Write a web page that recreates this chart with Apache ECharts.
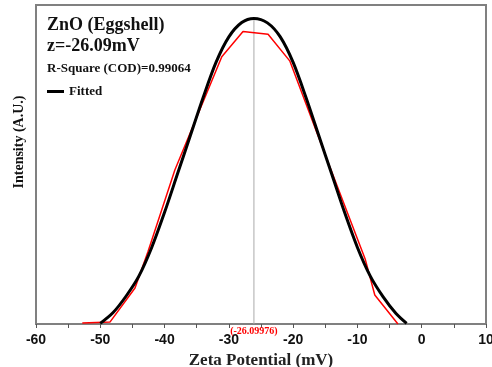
<!DOCTYPE html>
<html>
<head>
<meta charset="utf-8">
<script src="https://cdn.jsdelivr.net/npm/echarts@6/dist/echarts.min.js"></script>
<style>html,body{margin:0;padding:0;background:#fff}#c{width:492px;height:367px}</style>
</head>
<body>
<div id="c"></div>
<script>
// Fitted curve (black)
var fitX = [-50, -48, -46, -44, -42, -40, -38, -36, -34, -32, -30, -28, -26.1, -24, -22, -20, -18, -16, -14, -12, -10, -8, -6, -4, -2.35];
var fitY = [0.2, 3.6, 8.7, 15, 24, 35, 47, 59, 71, 82, 90, 94.5, 95.8, 94.4, 90, 82, 71, 59, 47, 35, 24, 15, 8.5, 3.3, 0.2];
// Measured data (red)
var dataX = [-52.8, -48.5, -44.6, -42.6, -38.4, -31.1, -27.8, -23.9, -20.5, -14.7, -8.8, -7.3, -3.7];
var dataY = [0.3, 0.6, 11.3, 22.6, 48.3, 83.8, 91.7, 90.8, 82.4, 51.4, 20.4, 9.1, 0.0];
// Peak marker
var peakX = -26.09976;
var peakY = 95.8;
var peakLabel = '(-26.09976)';
var xTicks = {min: -60, max: 10, interval: 10};

function pairs(xs, ys){ return xs.map(function(x,i){ return [x, ys[i]]; }); }

var chart = echarts.init(document.getElementById('c'));
var serif = '"Liberation Serif", "Times New Roman", serif';
var sans = '"Liberation Sans", Arial, sans-serif';
chart.setOption({
  animation: false,
  grid: {left: 36, right: 6, top: 5, bottom: 43, show: true, borderColor: '#808080', borderWidth: 2, containLabel: false, outerBoundsMode: 'none'},
  xAxis: {
    type: 'value', min: xTicks.min, max: xTicks.max, interval: xTicks.interval,
    name: 'Zeta Potential (mV)', nameLocation: 'middle', nameGap: 23,
    nameTextStyle: {fontFamily: serif, fontWeight: 'bold', fontSize: 17, color: '#222'},
    axisLine: {show: true, onZero: false, lineStyle: {color: '#808080', width: 2}},
    axisTick: {show: true, inside: false, length: 4, lineStyle: {color: '#555'}},
    minorTick: {show: true, splitNumber: 2, length: 4, lineStyle: {color: '#555'}},
    splitLine: {show: false},
    axisLabel: {fontFamily: sans, fontWeight: 'bold', fontSize: 14, color: '#111', margin: 9}
  },
  yAxis: {
    type: 'value', min: 0, max: 100,
    axisLine: {show: true, onZero: false, lineStyle: {color: '#808080', width: 2}},
    axisTick: {show: false}, axisLabel: {show: false}, splitLine: {show: false}
  },
  legend: {
    data: ['Fitted'], left: 42, top: 80, icon: 'rect', itemWidth: 17, itemHeight: 3, itemGap: 6,
    textStyle: {fontFamily: serif, fontWeight: 'bold', fontSize: 13, color: '#111'}
  },
  graphic: [
    {type: 'text', left: 47, top: 16, style: {text: 'ZnO (Eggshell)', font: 'bold 18px ' + serif, fill: '#111'}},
    {type: 'text', left: 47, top: 37, style: {text: 'z=-26.09mV', font: 'bold 18px ' + serif, fill: '#111'}},
    {type: 'text', left: 47, top: 62, style: {text: 'R-Square (COD)=0.99064', font: 'bold 13px ' + serif, fill: '#111'}},
    {type: 'text', x: 19, y: 142, rotation: Math.PI / 2, style: {text: 'Intensity (A.U.)', font: 'bold 14px ' + serif, fill: '#111', align: 'center', verticalAlign: 'middle'}}
  ],
  series: [
    {
      name: 'Data', type: 'line', data: pairs(dataX, dataY), showSymbol: false, symbol: 'none',
      lineStyle: {color: '#ff0000', width: 1.5}, itemStyle: {color: '#ff0000'}, z: 3
    },
    {
      name: 'Fitted', type: 'line', data: pairs(fitX, fitY), showSymbol: false, symbol: 'none', smooth: 0.3,
      lineStyle: {color: '#000', width: 3}, itemStyle: {color: '#000'}, z: 4
    },
    {
      name: 'Peak', type: 'line', data: [[peakX, 0], [peakX, peakY]], symbol: 'none',
      lineStyle: {color: '#aaaaaa', width: 1}, z: 2,
      markPoint: {
        symbol: 'circle', symbolSize: 1, itemStyle: {color: 'rgba(0,0,0,0)'},
        data: [{coord: [peakX, 0], label: {show: true, formatter: peakLabel, position: 'bottom', distance: 2, fontFamily: serif, fontWeight: 'bold', fontSize: 10, color: '#ff0000'}}]
      }
    }
  ]
});
</script>
</body>
</html>
